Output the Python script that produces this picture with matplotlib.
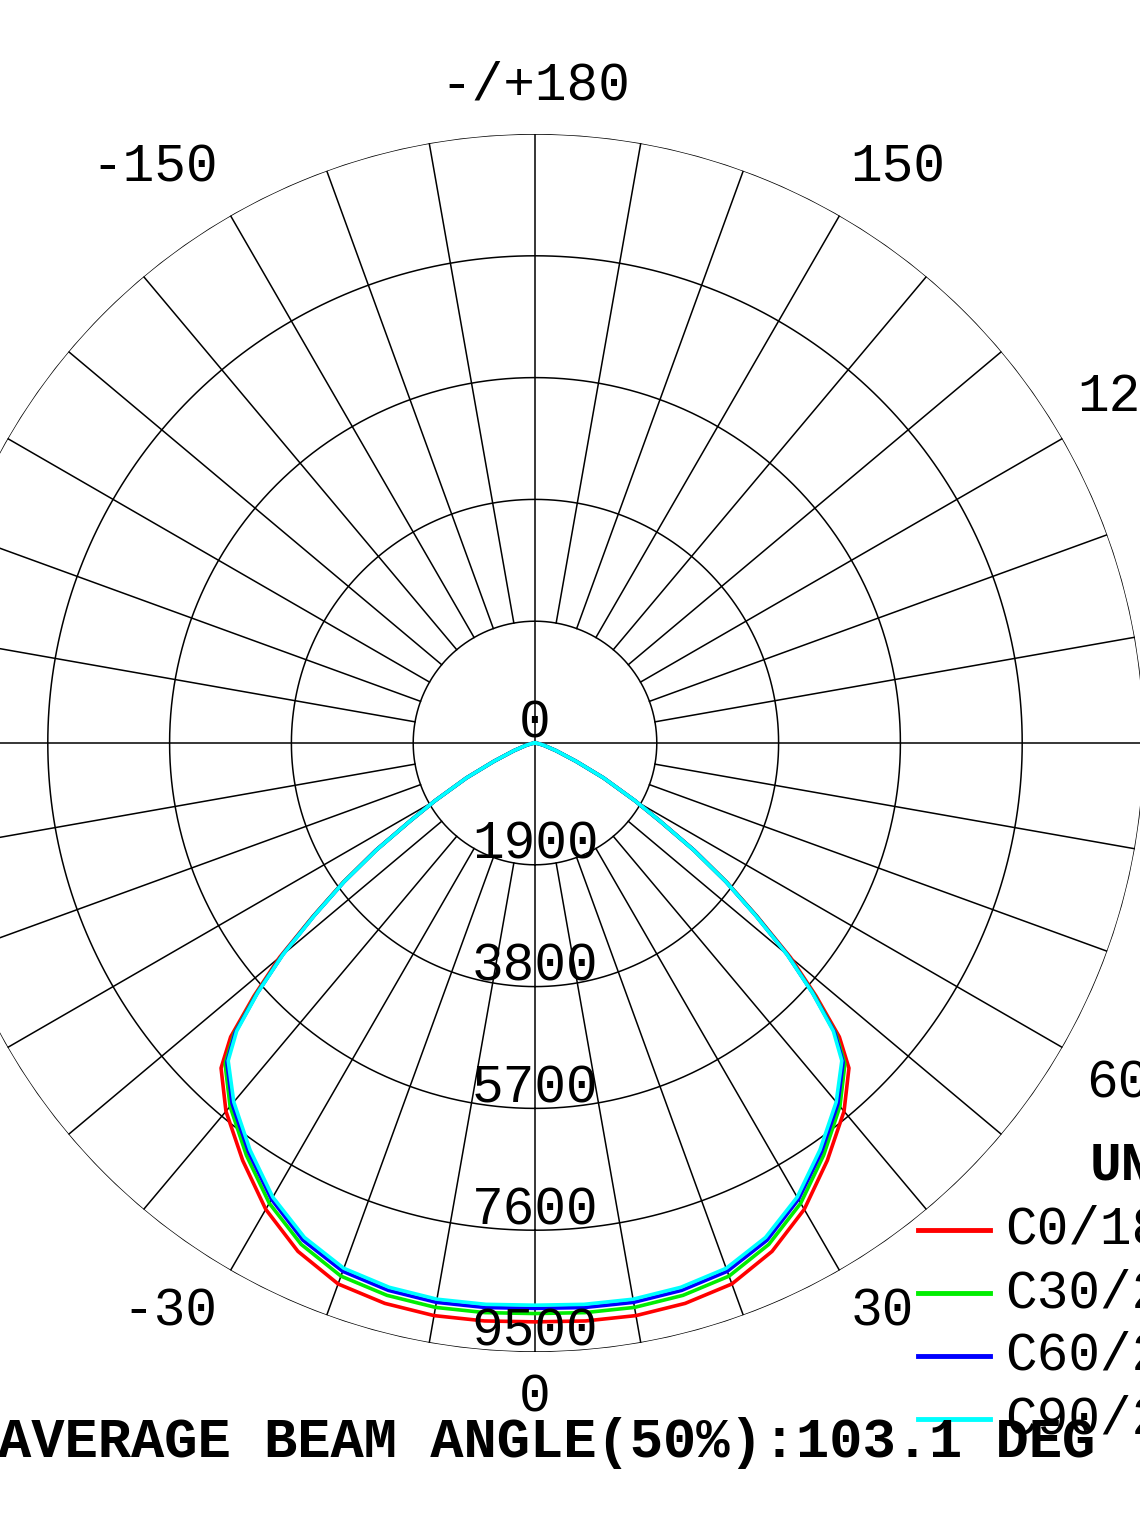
import numpy as np
import matplotlib
matplotlib.use("Agg")
import matplotlib.pyplot as plt

# gamma angles (deg) and intensities (cd) per C-plane
gamma = [0, 5, 10, 15, 20, 25, 30, 35, 40, 44, 46, 48, 50, 52, 54, 56, 58, 60, 63, 66, 70, 75, 80, 90]
c0 = [9030, 9050, 9070, 9050, 8980, 8750, 8400, 7950, 7500, 7050, 6600, 5900, 5200, 4400, 3700, 3000,
      2300, 1800, 1200, 700, 350, 150, 60, 0]
c30 = [8900, 8920, 8940, 8920, 8850, 8630, 8290, 7850, 7400, 6960, 6520, 5850, 5150, 4380, 3690, 2990,
       2300, 1800, 1200, 700, 350, 150, 60, 0]
c60 = [8820, 8840, 8860, 8840, 8770, 8560, 8220, 7790, 7350, 6920, 6500, 5830, 5140, 4370, 3680, 2990,
       2300, 1800, 1200, 700, 350, 150, 60, 0]
c90 = [8770, 8790, 8810, 8790, 8720, 8510, 8180, 7750, 7310, 6890, 6470, 5820, 5130, 4360, 3680, 2980,
       2300, 1800, 1200, 700, 350, 150, 60, 0]
series = [("C0/180", c0, "#ff0000"), ("C30/210", c30, "#00ee00"),
          ("C60/240", c60, "#0000ff"), ("C90/270", c90, "#00ffff")]
rings = [1900, 3800, 5700, 7600, 9500]
ring_labels = ["0", "1900", "3800", "5700", "7600", "9500"]

W, H = 1140, 1520
cx, cy, R = 535, 743, 609
fig = plt.figure(figsize=(W / 100, H / 100), dpi=100)
ax = fig.add_axes([(cx - R) / W, (H - cy - R) / H, 2 * R / W, 2 * R / H], projection="polar")
ax.set_theta_zero_location("S")
ax.set_theta_direction(1)
ax.set_ylim(0, 9500)
ax.axis("off")

full = np.linspace(0, 2 * np.pi, 721)
for r in rings:
    ax.plot(full, np.full_like(full, r), color="black", lw=1.1)
for a in range(0, 360, 10):
    t = np.radians(a)
    r0 = 0 if a % 90 == 0 else rings[0]
    ax.plot([t, t], [r0, rings[-1]], color="black", lw=1.1)

g = np.array(gamma, dtype=float)
for name, vals, col in series:
    v = np.array(vals, dtype=float)
    th = np.radians(np.concatenate([-g[::-1], g[1:]]))
    rr = np.concatenate([v[::-1], v[1:]])
    ax.plot(th, rr, color=col, lw=2.6, clip_on=False, solid_joinstyle="round")

font = dict(family="Liberation Mono", fontsize=38, color="black")
# radial labels
for i, lab in enumerate(ring_labels):
    rpx = 0 if i == 0 else rings[i - 1] / 9500 * R
    fig.text(cx / W, 1 - (cy + rpx - 20) / H, lab, ha="center", va="center", **font)

# angle labels
for lab, x, y in [("-/+180", 535, 85), ("150", 898, 167), ("-150", 155, 167),
                  ("120", 1125, 397), ("60", 1118, 1083), ("30", 882, 1312),
                  ("-30", 170, 1312), ("0", 535, 1397)]:
    fig.text(x / W, 1 - y / H, lab, ha="center", va="center", **font)

# legend
fig.text(1090 / W, 1 - 1165 / H, "UNIT:cd", ha="left", va="center", fontweight="bold", **font)
for i, (name, vals, col) in enumerate(series):
    y = 1 - (1230 + 63 * i) / H
    fig.add_artist(plt.Line2D([918 / W, 990 / W], [y, y], color=col, lw=3.5))
    fig.text(1005 / W, y, name, ha="left", va="center", **font)

fig.text(1095 / W, 1 - 1443 / H, "AVERAGE BEAM ANGLE(50%):103.1 DEG", ha="right", va="center",
         family="Liberation Mono", fontsize=40, fontweight="bold", color="black")

fig.savefig("out.png", dpi=100, facecolor="white")
